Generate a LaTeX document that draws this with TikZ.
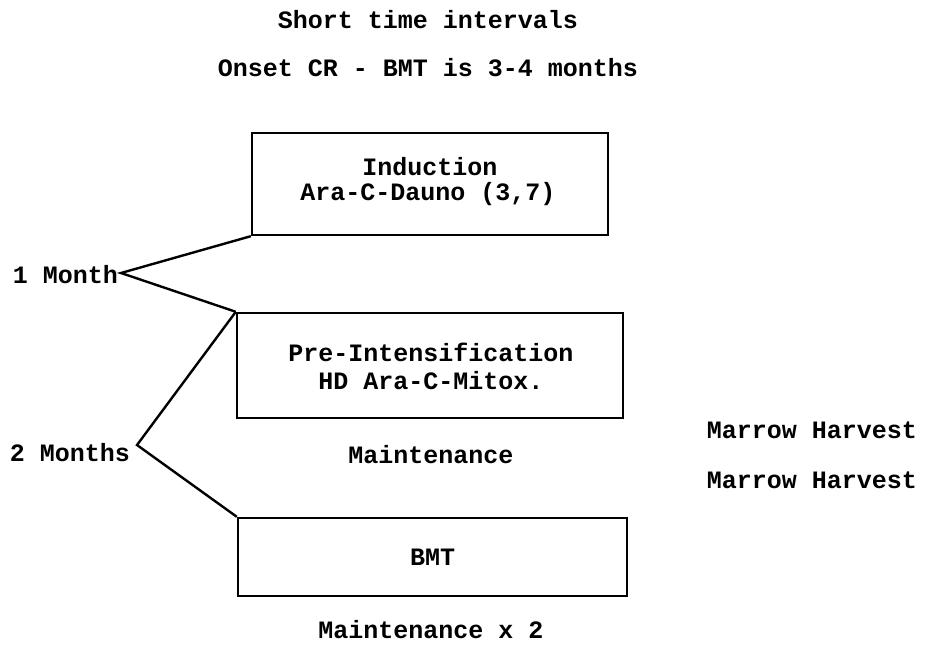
\documentclass[tikz,border=0pt]{standalone}
\usepackage{fontspec}
\setmonofont{Liberation Mono}
\begin{document}
\begin{tikzpicture}[x=1pt,y=-1pt,
  every node/.style={font=\fontsize{25}{29}\selectfont\ttfamily\bfseries, inner sep=0pt},
  stagebox/.style={draw, line width=2.4pt, align=center},
  link/.style={line width=2.4pt, line join=miter}]
\useasboundingbox (0,0) rectangle (936,647);

% headings
\node (title) at (428,20) {Short time intervals};
\node (onset) at (428,68) {Onset CR - BMT is 3-4 months};

% treatment stages
\node[stagebox, minimum width=356pt, minimum height=102pt] (ind) at (430,184) {};
\node (indA) at (430,167) {Induction};
\node (indB) at (428,194) {Ara-C-Dauno (3,7)};

\node[stagebox, minimum width=386pt, minimum height=105pt] (pre) at (430,365.5) {};
\node (preA) at (431,352) {Pre-Intensification};
\node (preB) at (431,381) {HD Ara-C-Mitox.};

\node (maint) at (431,455) {Maintenance};

\node[stagebox, minimum width=389pt, minimum height=78pt] (bmt) at (432.5,557) {BMT};

\node (maint2) at (431,630) {Maintenance x 2};

% harvest notes
\node (mh1) at (812,430) {Marrow Harvest};
\node (mh2) at (812,480) {Marrow Harvest};

% interval brackets
\coordinate (tip1) at (121,273);
\coordinate (tip2) at (137,445);
\node[anchor=east] (month1) at (118,275) {1 Month};
\node[anchor=east] (month2) at (130,453) {2 Months};

\draw[link] (ind.south west) -- (tip1) -- (pre.north west);
\draw[link] (pre.north west) -- (tip2) -- (bmt.north west);
\end{tikzpicture}
\end{document}
